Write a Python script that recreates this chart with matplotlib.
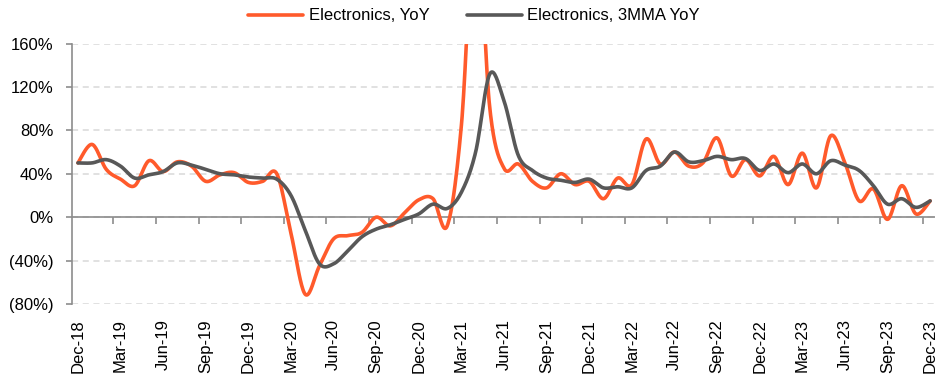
import numpy as np
import matplotlib
matplotlib.use("Agg")
import matplotlib.pyplot as plt
from matplotlib.ticker import FixedLocator, FuncFormatter

plt.rcParams['font.family'] = ['Liberation Sans', 'DejaVu Sans']

# monthly, Dec-18 .. Dec-23
yoy = [50, 67, 44, 35, 29, 52, 42, 51, 47, 33, 39, 41, 32, 33, 40,
       -15, -71, -45, -20, -17, -14, 0, -8, 4, 16, 17, -8,
       85, 280, 100, 45, 49, 33, 27, 40, 30, 33, 17, 36, 30,
       72, 49, 60, 47, 50, 73, 38, 53, 38, 56, 30, 59, 27, 75, 50,
       15, 26, -2, 29, 3, 15]
mma3 = [50, 50, 53, 47, 36, 39, 42, 50, 48, 44, 40, 39, 37, 36, 35,
        20, -12, -43, -43, -31, -18, -11, -7, -2, 3, 12, 8,
        23, 60, 132, 107, 57, 43, 36, 34, 32, 35, 27, 28, 27,
        43, 47, 60, 51, 52, 56, 53, 54, 43, 49, 41, 49, 40, 52, 48,
        43, 29, 12, 17, 9, 15]
tick_labels = ['Dec-18', 'Mar-19', 'Jun-19', 'Sep-19', 'Dec-19', 'Mar-20', 'Jun-20',
               'Sep-20', 'Dec-20', 'Mar-21', 'Jun-21', 'Sep-21', 'Dec-21', 'Mar-22',
               'Jun-22', 'Sep-22', 'Dec-22', 'Mar-23', 'Jun-23', 'Sep-23', 'Dec-23']

ORANGE = '#FF5A2B'
GREY = '#585858'
AXIS = '#8C8C8C'


def smooth(y, steps=20):
    # Excel-style smoothed line: cubic Bezier through each point,
    # control points from the neighbouring points (tension 1/6)
    y = np.asarray(y, dtype=float)
    x = np.arange(len(y), dtype=float)
    pts = np.column_stack([x, y])
    pad = np.vstack([pts[0], pts, pts[-1]])
    t = np.linspace(0, 1, steps, endpoint=False)[:, None]
    out = []
    for i in range(len(pts) - 1):
        p0, p3 = pad[i + 1], pad[i + 2]
        p1 = p0 + (pad[i + 2] - pad[i]) / 6
        p2 = p3 - (pad[i + 3] - pad[i + 1]) / 6
        seg = ((1 - t) ** 3) * p0 + 3 * ((1 - t) ** 2) * t * p1 \
            + 3 * (1 - t) * t ** 2 * p2 + t ** 3 * p3
        out.append(seg)
    out.append(pts[-1:])
    out = np.vstack(out)
    return out[:, 0], out[:, 1]


fig = plt.figure(figsize=(9.37, 3.8), dpi=100)
ax = fig.add_axes([0.0768, 0.2, 0.9212, 0.6855])

xs, ys = smooth(yoy)
ax.plot(xs, ys, color=ORANGE, lw=2.6, solid_capstyle='round', label='Electronics, YoY', zorder=3)
xs, ys = smooth(mma3)
ax.plot(xs, ys, color=GREY, lw=2.6, solid_capstyle='round', label='Electronics, 3MMA YoY', zorder=4)

ax.set_ylim(-80, 160)
ax.set_xlim(-0.42, 60.35)
ax.set_yticks(np.arange(-80, 161, 40))
ax.yaxis.set_major_formatter(FuncFormatter(
    lambda v, p: f'{v:.0f}%' if v >= 0 else f'({-v:.0f}%)'))
ax.grid(axis='y', color='#D9D9D9', linestyle=(0, (4, 3)), lw=1.1)
ax.set_axisbelow(True)

# solid zero line over the dashed grid
ax.axhline(0, color=AXIS, lw=1.2, zorder=2)

for s in ['top', 'right', 'bottom']:
    ax.spines[s].set_visible(False)
ax.spines['left'].set_color(AXIS)
ax.spines['left'].set_linewidth(1.2)

ax.tick_params(axis='y', length=4, width=1.2, color=AXIS, pad=9.5, labelsize=12, labelcolor='black')
ax.set_xticks(np.arange(0, 61, 3))
ax.set_xticklabels(tick_labels, rotation=90)
ax.tick_params(axis='x', length=0, pad=11, labelsize=12, labelcolor='black')

# tick marks on the zero line, between the quarter groups
zero_ax = ax.secondary_xaxis(0, transform=ax.transData)
zero_ax.spines['bottom'].set_visible(False)
zero_ax.xaxis.set_major_locator(FixedLocator(np.arange(2.5, 60, 3)))
zero_ax.tick_params(axis='x', length=5, width=1.2, color=AXIS, labelbottom=False)

fig.legend(loc='center', bbox_to_anchor=(0.506, 0.958), ncol=2, frameon=False,
           fontsize=12, handlelength=3.3, handletextpad=0.35, columnspacing=2.2)

fig.savefig('out.png', dpi=100)
